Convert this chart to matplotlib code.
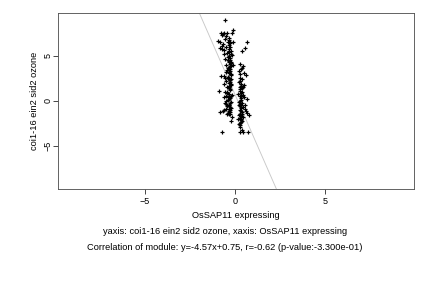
import numpy as np
import matplotlib
matplotlib.use("Agg")
import matplotlib.pyplot as plt

plt.rcParams['font.family'] = ['Liberation Sans', 'DejaVu Sans']

# left cluster
xa = [-0.55, -0.75, -0.6, -0.45, -0.5, -0.35, -0.7, -0.55, -0.1, -0.95,
      -0.8, -0.65, -0.4, -0.25, -0.3, -0.5, -0.85, -0.7, -0.6, -0.35,
      -0.2, -0.45, -0.3, -0.25, -0.55, -0.4, -0.3, -0.2, -0.5, -0.35,
      -0.25, -0.45, -0.3, -0.2, -0.6, -0.4, -0.3, -0.25, -0.5, -0.35,
      -0.2, -0.45, -0.3, -0.25, -0.9, -0.55, -0.35, -0.2, -0.4, -0.3,
      -0.5, -0.25, -0.35, -0.45, -0.2, -0.6, -0.3, -0.8, -0.4, -0.25,
      -0.15, -0.2, -0.7, -0.3, -0.28, -0.32, -0.22, -0.38, -0.27, -0.33,
      -0.29, -0.24, -0.36, -0.31, -0.26, -0.34, -0.21, -0.39, -0.3, -0.27,
      -0.23, -0.35, -0.32, -0.28, -0.42, -0.18, -0.3, -0.26, -0.37, -0.24,
      -0.65, -0.7, -0.6, -0.75, -0.55, -0.62, -0.48, -0.52, -0.68, -0.58,
      -0.33, -0.29, -0.31, -0.27, -0.35, -0.25, -0.3, -0.28, -0.34, -0.22,
      -0.5, -0.45, -0.55, -0.42, -0.48, -0.15, -0.12, -0.18, -0.1, -0.2]
ya = [9.0, 7.5, 7.6, 7.5, 7.2, 7.0, 7.3, 6.9, 7.9, 6.7,
      6.5, 6.3, 6.5, 6.5, 6.2, 6.0, 5.9, 5.8, 5.7, 5.6,
      5.5, 5.3, 5.0, 4.8, 4.7, 4.5, 4.3, 4.2, 4.0, 3.8,
      3.6, 3.4, 3.2, 3.0, 2.8, 2.7, 2.5, 2.3, 2.2, 2.0,
      1.8, 1.6, 1.4, 1.2, 1.1, 1.0, 0.8, 0.6, 0.4, 0.2,
      0.0, -0.2, -0.4, -0.6, -0.8, -1.0, -1.1, -1.2, -1.3, -1.5,
      -1.8, -2.2, -3.4, 6.8, 6.0, 5.4, 5.2, 4.9, 4.6, 4.4,
      4.1, 3.9, 3.7, 3.5, 3.3, 3.1, 2.9, 2.6, 2.4, 2.1,
      1.9, 1.7, 1.5, 1.3, 0.9, 0.7, 0.5, 0.3, 0.1, -0.1,
      7.4, 6.1, 5.2, 2.8, 2.6, 1.9, -0.3, -0.9, -1.1, 0.4,
      -0.5, -0.7, -0.9, -1.2, -1.4, -1.0, 5.8, 6.4, 3.5, 4.3,
      3.2, 1.0, -0.2, -1.4, 0.6, 7.5, 6.6, 5.1, 4.0, 2.4]

# right cluster
xb = [0.7, 0.55, 0.4, 0.3, 0.45, 0.35, 0.25, 0.5, 0.6, 0.3,
      0.4, 0.25, 0.35, 0.45, 0.3, 0.4, 0.2, 0.35, 0.5, 0.65,
      0.3, 0.4, 0.25, 0.45, 0.55, 0.35, 0.7, 0.3, 0.8, 0.45,
      0.2, 0.35, 0.25, 0.3, 0.4, 0.3, 0.45, 0.75, 0.28, 0.32,
      0.38, 0.26, 0.34, 0.3, 0.36, 0.24, 0.31, 0.29, 0.33, 0.27,
      0.37, 0.3, 0.35, 0.28, 0.32, 0.26, 0.4, 0.22, 0.3, 0.34,
      0.55, 0.6, 0.5, 0.45, 0.42, 0.38, 0.3, 0.28, 0.33, 0.36]
yb = [6.6, 5.9, 5.6, 4.1, 3.9, 3.5, 3.3, 3.1, 2.9, 2.6,
      2.4, 2.1, 1.9, 1.6, 1.3, 1.0, 0.8, 0.6, 0.4, 0.2,
      0.0, -0.2, -0.4, -0.7, -0.9, -1.1, -1.3, -1.5, -1.6, -1.8,
      -2.0, -2.3, -2.6, -2.9, -3.2, -3.5, -3.4, -3.5, 2.2, 1.7,
      1.4, 1.1, 0.9, 0.5, 0.3, -0.1, -0.3, -0.6, -0.8, -1.0,
      -1.2, -1.4, -1.7, -1.9, -2.1, -2.4, -2.2, -1.6, -2.7, -0.5,
      -0.4, -1.1, 1.8, 0.7, -1.5, 3.7, 3.0, 1.5, 0.1, -2.0]

slope, intercept = -4.57, 0.75
xlabel = "OsSAP11 expressing"
ylabel = "coi1-16 ein2 sid2 ozone"
sub1 = "yaxis: coi1-16 ein2 sid2 ozone, xaxis: OsSAP11 expressing"
sub2 = "Correlation of module: y=-4.57x+0.75, r=-0.62 (p-value:-3.300e-01)"

fig = plt.figure(figsize=(6, 4), dpi=72)
ax = fig.add_axes([0.134, 0.344, 0.824, 0.611])

xlim = (-9.83, 9.94)
ylim = (-9.78, 9.78)
xx = np.array(xlim)
ax.plot(xx, slope * xx + intercept, color='#c8c8c8', lw=0.9, zorder=1)
ax.scatter(xa + xb, ya + yb, marker='+', s=24, c='black', lw=1.2, zorder=2)

ax.set_xlim(*xlim)
ax.set_ylim(*ylim)
ax.set_xticks([-5, 0, 5])
ax.set_yticks([-5, 0, 5])
ax.tick_params(labelsize=9, length=5, width=0.7, colors='black')
ax.tick_params(axis='x', pad=3)
ax.tick_params(axis='y', pad=0)
for lab in ax.get_yticklabels():
    lab.set_rotation(90)
    lab.set_va('center')
for s in ax.spines.values():
    s.set_color('#555555')
    s.set_linewidth(0.9)

ax.set_xlabel(xlabel, fontsize=9.3, labelpad=5)
ax.set_ylabel(ylabel, fontsize=9.3, labelpad=5)
fig.text(225 / 432, 1 - 231 / 288, sub1, ha='center', va='center', fontsize=9.3)
fig.text(225 / 432, 1 - 248 / 288, sub2, ha='center', va='center', fontsize=9.3)

fig.savefig("out.png", dpi=72)
